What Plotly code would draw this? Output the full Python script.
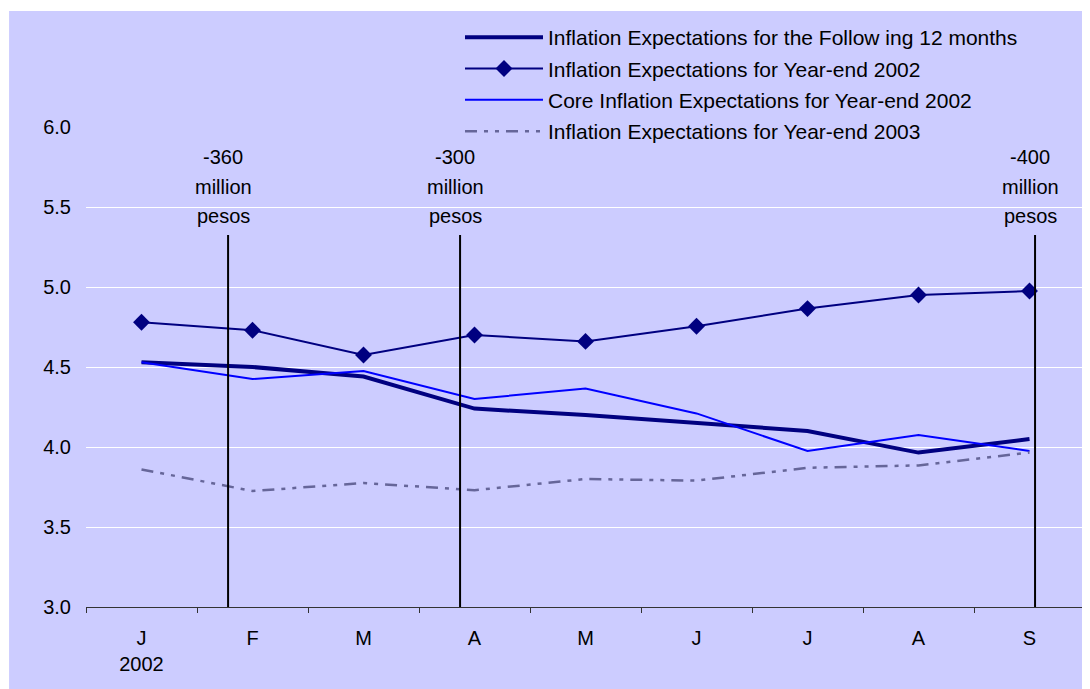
import plotly.graph_objects as go

months = ["J", "F", "M", "A", "M", "J", "J", "A", "S"]
month_labels = ["J<br>2002", "F", "M", "A", "M", "J", "J", "A", "S"]
x_idx = list(range(len(months)))

next12 = [4.53, 4.50, 4.44, 4.24, 4.20, 4.15, 4.10, 3.965, 4.05]
ye2002 = [4.78, 4.73, 4.575, 4.70, 4.66, 4.755, 4.865, 4.95, 4.975]
core2002 = [4.53, 4.425, 4.475, 4.30, 4.365, 4.21, 3.975, 4.075, 3.975]
ye2003 = [3.86, 3.725, 3.775, 3.73, 3.80, 3.79, 3.87, 3.885, 3.965]

names = [
    "Inflation Expectations for the Follow ing 12 months",
    "Inflation Expectations for Year-end 2002",
    "Core Inflation Expectations for Year-end 2002",
    "Inflation Expectations for Year-end 2003",
]

# intervention markers: position (in month index units), label lines
event_x = [0.78, 2.87, 8.05]
event_labels = [["-360", "million", "pesos"], ["-300", "million", "pesos"], ["-400", "million", "pesos"]]
event_top = 5.325

BG = "#CCCCFF"
FONT = "Liberation Sans, Arial, sans-serif"

fig = go.Figure()
fig.add_trace(go.Scatter(x=x_idx, y=next12, name=names[0], mode="lines", legendgroup="a",
                         line=dict(color="#000080", width=4)))
fig.add_trace(go.Scatter(x=x_idx, y=ye2002, name=names[1], mode="lines+markers", legendgroup="b",
                         line=dict(color="#000080", width=2),
                         marker=dict(symbol="diamond", size=13, color="#000080")))
fig.add_trace(go.Scatter(x=x_idx, y=core2002, name=names[2], mode="lines", legendgroup="c",
                         line=dict(color="#0000FF", width=2)))
fig.add_trace(go.Scatter(x=x_idx, y=ye2003, name=names[3], mode="lines", legendgroup="d",
                         line=dict(color="#666699", width=2.5, dash="12px,7px,4px,7px,4px,7px")))

PLOT_H = 480
shapes = [
    dict(type="rect", xref="paper", yref="paper", x0=-0.077, x1=1.01, y0=-0.2, y1=(119 - 3) / PLOT_H + 1,
         fillcolor=BG, line=dict(width=0), layer="below"),
]
for ex in event_x:
    shapes.append(dict(type="line", xref="x", yref="y", x0=ex, x1=ex, y0=3.0, y1=event_top,
                       line=dict(color="black", width=2)))

annotations = []
line_y = [5.8125, 5.625, 5.444]
for ex, lab in zip(event_x, event_labels):
    for txt, yy in zip(lab, line_y):
        annotations.append(dict(x=ex - 0.045, y=yy, xref="x", yref="y", text=txt,
                                showarrow=False, xanchor="center", yanchor="middle",
                                font=dict(size=20, color="black", family=FONT)))

fig.update_layout(
    width=1082, height=681,
    margin=dict(l=78, r=5, t=119, b=82),
    paper_bgcolor="white",
    plot_bgcolor=BG,
    font=dict(family=FONT, size=20, color="black"),
    shapes=shapes,
    annotations=annotations,
    showlegend=True,
    legend=dict(x=0.3003, y=1.229, xanchor="left", yanchor="top",
                bgcolor=BG, borderwidth=0, itemwidth=78, indentation=74,
                font=dict(size=21, family=FONT, color="black"),
                traceorder="grouped", tracegroupgap=1),
    xaxis=dict(range=[-0.5, 8.5], tickmode="array", tickvals=x_idx, ticktext=month_labels,
               ticks="", showgrid=False, zeroline=False,
               showline=True, linecolor="#333333", linewidth=1,
               minor=dict(ticks="outside", tick0=-0.5, dtick=1, ticklen=5,
                          tickcolor="#333333", tickwidth=1, showgrid=False),
               ticklabelstandoff=13),
    yaxis=dict(range=[3.0, 6.0], tickmode="array", tickvals=[3.0, 3.5, 4.0, 4.5, 5.0, 5.5, 6.0],
               ticktext=["3.0", "3.5", "4.0", "4.5", "5.0", "5.5", "6.0"],
               ticks="", showgrid=True, gridcolor="white", gridwidth=1,
               zeroline=False, showline=False, ticklabelstandoff=14),
)

fig.write_html("out.html")
